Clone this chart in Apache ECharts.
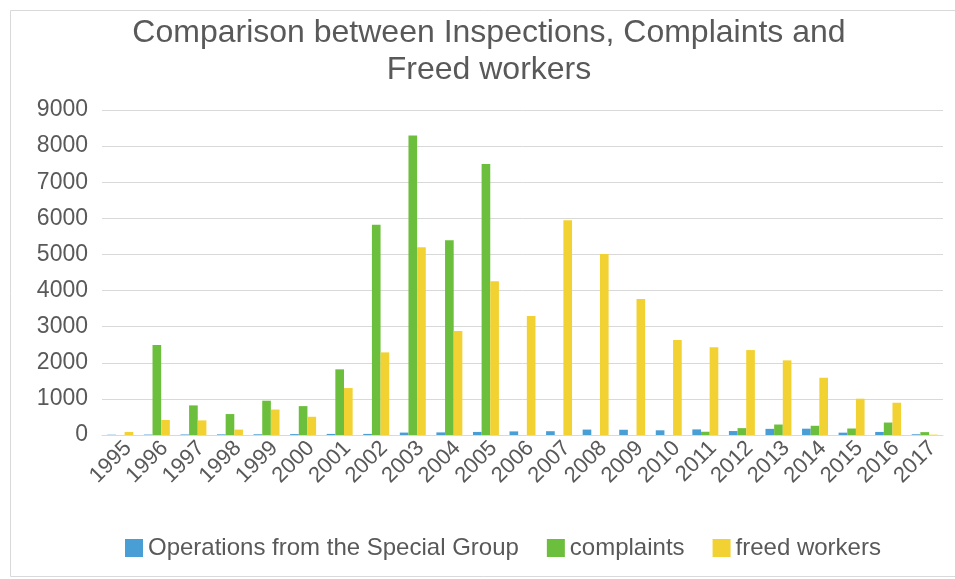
<!DOCTYPE html>
<html>
<head>
<meta charset="utf-8">
<script src="https://cdn.jsdelivr.net/npm/echarts@6/dist/echarts.min.js"></script>
<style>html,body{margin:0;padding:0;background:#fff;}#c{width:955px;height:579px;}</style>
</head>
<body>
<div id="c"></div>
<script>
const years = ['1995','1996','1997','1998','1999','2000','2001','2002','2003','2004','2005','2006','2007','2008','2009','2010','2011','2012','2013','2014','2015','2016','2017'];
const operations = [8, 12, 15, 18, 20, 25, 30, 30, 67, 72, 85, 100, 105, 150, 145, 130, 155, 110, 170, 175, 65, 85, 20];
const complaints = [0, 2490, 820, 580, 950, 800, 1818, 5820, 8293, 5396, 7507, 0, 0, 0, 0, 0, 90, 190, 290, 255, 180, 345, 80];
const freedWorkers = [85, 415, 405, 150, 705, 505, 1300, 2288, 5202, 2878, 4261, 3293, 5949, 5012, 3763, 2629, 2430, 2352, 2067, 1586, 1005, 894, 10];
const yTicks = { min: 0, max: 9000, interval: 1000 };

const txt = '#595959';
const font = '"Liberation Sans", Arial, sans-serif';
const chart = echarts.init(document.getElementById('c'), null, { renderer: 'canvas' });
chart.setOption({
  animation: false,
  backgroundColor: '#ffffff',
  graphic: [{
    type: 'rect', silent: true, z: -10,
    shape: { x: 10.5, y: 10.5, width: 970, height: 566 },
    style: { fill: 'none', stroke: '#d9d9d9', lineWidth: 1 }
  }],
  title: {
    text: 'Comparison between Inspections, Complaints and\nFreed workers',
    left: 484, top: 10, textAlign: 'center',
    padding: 5,
    textStyle: { fontFamily: font, fontSize: 32, fontWeight: 'normal', color: txt, lineHeight: 37 }
  },
  legend: {
    left: 120, top: 531,
    itemWidth: 18, itemHeight: 18, itemGap: 28,
    icon: 'rect',
    textStyle: { fontFamily: font, fontSize: 24, color: txt },
    data: ['Operations from the Special Group', 'complaints', 'freed workers']
  },
  grid: { left: 102, right: 12, top: 110, bottom: 144, outerBoundsMode: 'none', containLabel: false },
  xAxis: {
    type: 'category', data: years,
    axisLine: { lineStyle: { color: '#d9d9d9', width: 1 } },
    axisTick: { show: false },
    axisLabel: { rotate: 45, fontFamily: font, fontSize: 22, color: txt, margin: 2, interval: 0, verticalAlign: 'top' }
  },
  yAxis: {
    type: 'value', min: yTicks.min, max: yTicks.max, interval: yTicks.interval,
    axisLine: { show: false }, axisTick: { show: false },
    splitLine: { lineStyle: { color: '#d9d9d9', width: 1 } },
    axisLabel: { fontFamily: font, fontSize: 23, color: txt, margin: 14, formatter: function (v) { return String(v); } }
  },
  series: [
    { name: 'Operations from the Special Group', type: 'bar', data: operations, itemStyle: { color: '#4A9ED6' }, barGap: '0%', barCategoryGap: '29%' },
    { name: 'complaints', type: 'bar', data: complaints, itemStyle: { color: '#6CBF3C' }, barGap: '0%', barCategoryGap: '29%' },
    { name: 'freed workers', type: 'bar', data: freedWorkers, itemStyle: { color: '#F2D233' }, barGap: '0%', barCategoryGap: '29%' }
  ]
});
</script>
</body>
</html>
